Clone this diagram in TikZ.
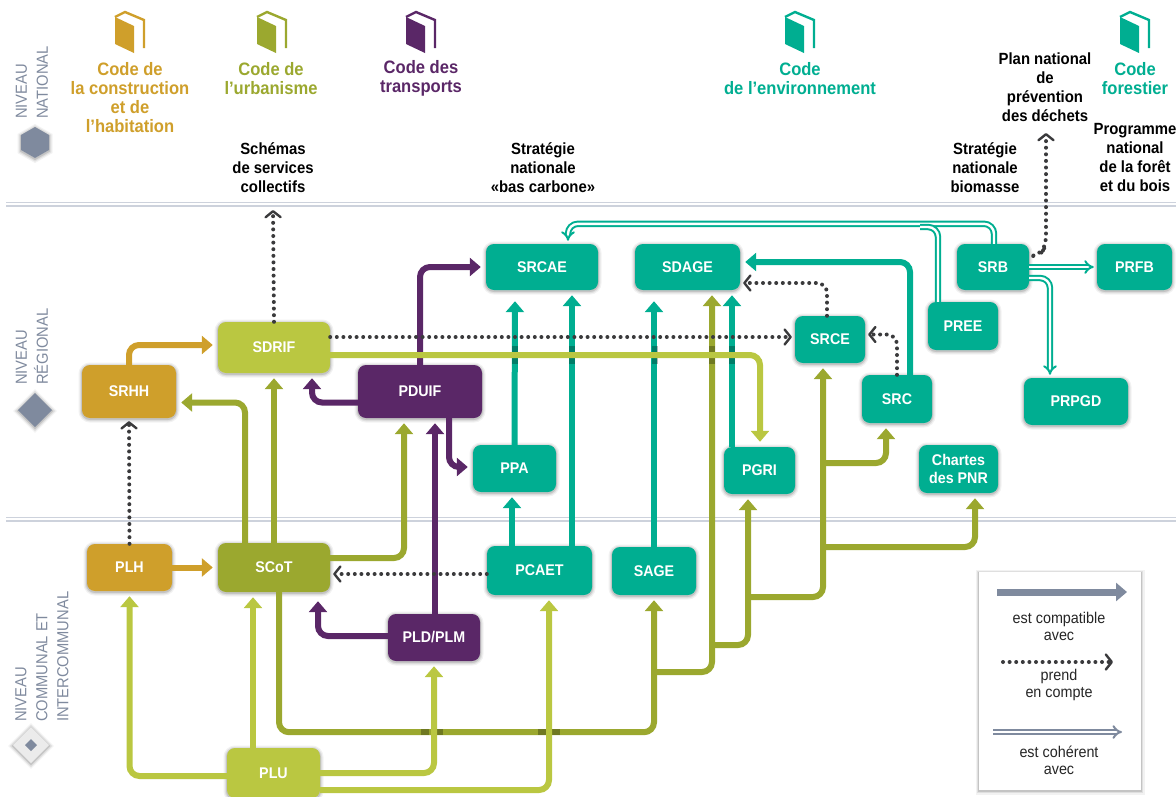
\documentclass[tikz,border=0pt]{standalone}
\usepackage{fontspec}
\setmainfont{Liberation Sans}[FakeStretch=0.92]
\usetikzlibrary{arrows.meta}
\definecolor{goldc}{HTML}{CF9F2B}
\definecolor{olivec}{HTML}{9BA82F}
\definecolor{lightc}{HTML}{BAC741}
\definecolor{purplec}{HTML}{5A2767}
\definecolor{tealc}{HTML}{00AE91}
\definecolor{greyc}{HTML}{7F8A9E}
\definecolor{dotc}{HTML}{3A3A3C}
\definecolor{rulec}{HTML}{CDD2DC}
\tikzset{
    fuzz/.style={preaction={draw=black,opacity=.05,line width=7pt,transform canvas={yshift=-1pt}},
        preaction={draw=black,opacity=.08,line width=4.5pt,transform canvas={yshift=-1pt}},
        preaction={draw=black,opacity=.12,line width=2pt,transform canvas={yshift=-1pt}}},
    box/.style={rounded corners=8pt,text=white,inner sep=0pt,align=center,
        font=\bfseries\fontsize{15.5}{18}\selectfont,fuzz},
    lnk/.style={line width=6pt,rounded corners=10pt,shorten >=5pt,
        -{Triangle[width=18pt,length=11pt]}},
    dblline/.style={draw=tealc,line width=2pt,double=white,double distance=2.4pt,rounded corners=10pt},
    dbl/.style={dblline,shorten >=3pt,-{Implies[length=7pt,width=16pt]}},
    dots/.style={draw=dotc,line width=4pt,line cap=round,dash pattern=on 0pt off 6.6pt,rounded corners=10pt,
        shorten >=3pt,-{Straight Barb[length=6pt,width=15pt,line width=2.4pt,round]}},
    codetxt/.style={align=center,inner sep=0pt,font=\bfseries\fontsize{18}{19}\selectfont},
    plantxt/.style={align=center,inner sep=0pt,text=black,font=\bfseries\fontsize{16.2}{19}\selectfont},
    leveltxt/.style={align=left,inner sep=0pt,text=greyc,rotate=90,anchor=west,font=\fontsize{16}{21}\selectfont},
    legtxt/.style={align=center,inner sep=0pt,text=black!85,font=\fontsize{15.6}{17}\selectfont},
}
\newcommand{\bookicon}[2]{%
    \fill[#2] (#1-15,17) -- (#1+4,26) -- (#1+4,53) -- (#1-15,44) -- cycle;
    \draw[#2,line width=2.4pt] (#1-15,17) -- (#1-5,12) -- (#1+14,20) -- (#1+14,48);
}
\newcommand{\crossv}[1]{%
    \fill[black,opacity=.28] (#1-3,346) rectangle (#1+3,352);
    \fill[black,opacity=.28] (#1-3,358) rectangle (#1+3,364);
}
\newcommand{\crossh}[1]{%
    \fill[black,opacity=.28] (#1-11,729) rectangle (#1-3,735);
    \fill[black,opacity=.28] (#1+3,729) rectangle (#1+11,735);
}
\begin{document}
\begin{tikzpicture}[x=1pt,y=-1pt]
    \useasboundingbox (0,0) rectangle (1176,796);
    % level rules
    \draw[rulec,line width=1.4pt] (6,202.5) -- (1176,202.5);
    \draw[rulec,line width=2pt] (6,206) -- (1176,206);
    \draw[rulec,line width=1.4pt] (6,517.5) -- (1176,517.5);
    \draw[rulec,line width=2pt] (6,521) -- (1176,521);
    % levels
    \node[leveltxt] (lvlnat) at (32,119) {NIVEAU\\NATIONAL};
    \node[leveltxt] (lvlreg) at (32,385) {NIVEAU\\RÉGIONAL};
    \node[leveltxt] (lvlcom) at (42,722) {NIVEAU\\COMMUNAL ET\\INTERCOMMUNAL};
    \fill[greyc,fuzz] (35,127) -- (49,135) -- (49,150) -- (35,158) -- (21,150) -- (21,135) -- cycle;
    \fill[greyc,fuzz] (35,393) -- (52,410) -- (35,427) -- (18,410) -- cycle;
    \fill[black!8,fuzz] (31,727) -- (49,745) -- (31,763) -- (13,745) -- cycle;
    \fill[greyc] (31,739) -- (37,745) -- (31,751) -- (25,745) -- cycle;
    % codes
    \bookicon{130}{goldc}
    \bookicon{272}{olivec}
    \bookicon{421}{purplec}
    \bookicon{800}{tealc}
    \bookicon{1135}{tealc}
    \node[codetxt,text=goldc] (codecons) at (130,97.5) {Code de\\la construction\\et de\\l’habitation};
    \node[codetxt,text=olivec] (codeurb) at (271,78.5) {Code de\\l’urbanisme};
    \node[codetxt,text=purplec] (codetrans) at (421,78.5) {Code des\\transports};
    \node[codetxt,text=tealc] (codeenv) at (800,78.5) {Code\\de l’environnement};
    \node[codetxt,text=tealc] (codefor) at (1135,78.5) {Code\\forestier};
    % national plans
    \node[plantxt] (schemas) at (273,167.5) {Schémas\\de services\\collectifs};
    \node[plantxt] (bascarbone) at (543,167.5) {Stratégie\\nationale\\«bas carbone»};
    \node[plantxt] (biomasse) at (985,167.5) {Stratégie\\nationale\\biomasse};
    \node[plantxt] (foret) at (1135,158) {Programme\\national\\de la forêt\\et du bois};
    \node[plantxt] (dechets) at (1045,87) {Plan national\\de\\prévention\\des déchets};
    % regional
    \node[box,fill=goldc,minimum width=94pt,minimum height=53pt] (SRHH) at (129,391.5) {SRHH};
    \node[box,fill=lightc,minimum width=112pt,minimum height=51pt] (SDRIF) at (274,347.5) {SDRIF};
    \node[box,fill=purplec,minimum width=124pt,minimum height=53pt] (PDUIF) at (420,391.5) {PDUIF};
    \node[box,fill=tealc,minimum width=83pt,minimum height=47pt] (PPA) at (514.5,468.5) {PPA};
    \node[box,fill=tealc,minimum width=71pt,minimum height=47pt] (PGRI) at (759.5,470.5) {PGRI};
    \node[box,fill=tealc,minimum width=70pt,minimum height=47pt] (SRCE) at (830,339.5) {SRCE};
    \node[box,fill=tealc,minimum width=70pt,minimum height=48pt] (SRC) at (897,399) {SRC};
    \node[box,fill=tealc,minimum width=70pt,minimum height=48pt] (PREE) at (963,326) {PREE};
    \node[box,fill=tealc,minimum width=72pt,minimum height=46pt] (SRB) at (993,267) {SRB};
    \node[box,fill=tealc,minimum width=75pt,minimum height=46pt] (PRFB) at (1134.5,267) {PRFB};
    \node[box,fill=tealc,minimum width=104pt,minimum height=47pt] (PRPGD) at (1076,401.5) {PRPGD};
    \node[box,fill=tealc,minimum width=79pt,minimum height=48pt,font=\bfseries\fontsize{15.5}{18.5}\selectfont] (PNR) at (958.5,469) {Chartes\\des PNR};
    \node[box,fill=tealc,minimum width=112pt,minimum height=46pt] (SRCAE) at (542,267) {SRCAE};
    \node[box,fill=tealc,minimum width=105pt,minimum height=46pt] (SDAGE) at (687.5,267) {SDAGE};
    % communal
    \node[box,fill=goldc,minimum width=85pt,minimum height=47pt] (PLH) at (129.5,567.5) {PLH};
    \node[box,fill=olivec,minimum width=112pt,minimum height=49pt] (SCoT) at (274,567.5) {SCoT};
    \node[box,fill=tealc,minimum width=105pt,minimum height=49pt] (PCAET) at (539.5,570.5) {PCAET};
    \node[box,fill=tealc,minimum width=84pt,minimum height=48pt] (SAGE) at (654,571) {SAGE};
    \node[box,fill=purplec,minimum width=92pt,minimum height=47pt] (PLD) at (434,637.5) {PLD/PLM};
    \node[box,fill=lightc,minimum width=93pt,minimum height=50pt] (PLU) at (273.5,773) {PLU};
    % est compatible avec: teal
    \draw[lnk,tealc] (PPA.north) -- ([xshift=-27pt,yshift=-6pt]SRCAE.south);
    \draw[lnk,tealc] ([xshift=-27.5pt]PCAET.north) -- ([xshift=-2.5pt]PPA.south);
    \draw[lnk,tealc] ([xshift=32.5pt]PCAET.north) -- ([xshift=30pt]SRCAE.south);
    \draw[lnk,tealc] (SAGE.north) -- ([xshift=-33.5pt,yshift=-6pt]SDAGE.south);
    \draw[lnk,tealc] ([xshift=-27.5pt]PGRI.north) -- ([xshift=44.5pt]SDAGE.south);
    \draw[lnk,tealc] ([xshift=13pt]SRC.north) |- ([yshift=5pt]SDAGE.east);
    % est compatible avec: purple
    \draw[lnk,purplec] (PDUIF.north) |- (SRCAE.west);
    \draw[lnk,purplec] ([yshift=-11pt]PDUIF.west) -| ([xshift=38pt]SDRIF.south);
    \draw[lnk,purplec] ([xshift=29pt]PDUIF.south) |- ([yshift=1.5pt]PPA.west);
    \draw[lnk,purplec] ([xshift=1pt]PLD.north) -- ([xshift=15pt]PDUIF.south);
    \draw[lnk,purplec] ([yshift=1.5pt]PLD.west) -| ([xshift=44pt,yshift=-4pt]SCoT.south);
    % est compatible avec: gold
    \draw[lnk,goldc] (SRHH.north) |- ([yshift=2.5pt]SDRIF.west);
    \draw[lnk,goldc] (PLH.east) -- (SCoT.west |- PLH.east);
    % est compatible avec: olive
    \coordinate (junDage) at (654,672);
    \coordinate (junPgri) at (712,645);
    \coordinate (junSrce) at (748,597);
    \coordinate (junPnr) at (823,547);
    \coordinate (junSrc) at (823,463);
    \draw[lnk,olivec] ([xshift=-29pt]SCoT.north) |- ([yshift=-11pt]SRHH.east);
    \draw[lnk,olivec] (SCoT.north) -- (SDRIF.south);
    \draw[lnk,olivec] ([yshift=9.5pt]SCoT.east) -| ([xshift=-16pt]PDUIF.south);
    \draw[lnk,olivec] ([xshift=5pt]SCoT.south) -- ++(0,140) -| (SAGE.south);
    \draw[lnk,olivec] (junDage) -| ([xshift=24.5pt]SDAGE.south);
    \draw[lnk,olivec] (junPgri) -| ([xshift=-11.5pt]PGRI.south);
    \draw[lnk,olivec] (junSrce) -| ([xshift=-7pt]SRCE.south);
    \draw[lnk,olivec] (junPnr) -| ([xshift=16.5pt]PNR.south);
    \draw[lnk,olivec] (junSrc) -| ([xshift=-11pt]SRC.south);
    % shade under the crossing lines
    \crossv{515}
    \crossv{572}
    \crossv{655}
    \crossv{712}
    \crossv{732}
    \crossh{432}
    \crossh{549}
    % est compatible avec: light olive
    \draw[lnk,lightc] ([yshift=-3pt]PLU.west) -| (PLH.south);
    \draw[lnk,lightc] ([xshift=-20.5pt]PLU.north) -- ([xshift=-21pt]SCoT.south);
    \draw[lnk,lightc] (PLU.east) -| (PLD.south);
    \draw[lnk,lightc] ([yshift=-17pt]PLU.east) -| ([xshift=9.5pt]PCAET.south);
    \draw[lnk,lightc] ([yshift=-7.5pt]SDRIF.east) -| ([xshift=0.5pt]PGRI.north);
    % est cohérent avec
    \draw[dbl] ([xshift=1pt]SRB.north) -- ++(0,-20) -| ([xshift=26pt]SRCAE.north);
    \draw[dblline] ([xshift=-25pt]PREE.north) |- (920,227);
    \draw[dbl] (SRB.east) -- (PRFB.west);
    \draw[dbl] ([yshift=-11pt]SRB.east) -| ([xshift=-26pt]PRPGD.north);
    % prend en compte
    \draw[dots] (SDRIF.north) -- (schemas.south |- 0,207);
    \draw[dots] ([yshift=10.5pt]SDRIF.east) -- ([yshift=2.5pt]SRCE.west);
    \draw[dots] (PCAET.west |- 0,574) -- (SCoT.east |- 0,574);
    \draw[dots] (PLH.north) -- (SRHH.south);
    \draw[dots] ([xshift=-3pt]SRCE.north) |- ([yshift=-16pt]SDAGE.east);
    \draw[dots] (SRC.north) |- ([yshift=5pt]SRCE.east);
    \draw[dots] ([yshift=11pt,xshift=4pt]SRB.east) -- (1040,255) -- (1046,246) -- (1046,130);
    % legend
    \node[minimum width=162pt,minimum height=218pt,inner sep=0pt,fill=white,fuzz] (legend) at (1060,681) {};
    \coordinate (legA1) at (997,592);
    \coordinate (legA2) at (1127,592);
    \coordinate (legB1) at (1003,662);
    \coordinate (legB2) at (1113,662);
    \coordinate (legC1) at (993,732);
    \coordinate (legC2) at (1122,732);
    \draw[lnk,greyc,shorten >=0pt,line width=7pt] (legA1) -- (legA2);
    \draw[dots,shorten >=0pt] (legB1) -- (legB2);
    \draw[dbl,draw=greyc,shorten >=0pt] (legC1) -- (legC2);
    \node[legtxt] (legtxtA) at (1059,626) {est compatible\\avec};
    \node[legtxt] (legtxtB) at (1059,685) {prend\\en compte};
    \node[legtxt] (legtxtC) at (1059,760) {est cohérent\\avec};
\end{tikzpicture}
\end{document}
